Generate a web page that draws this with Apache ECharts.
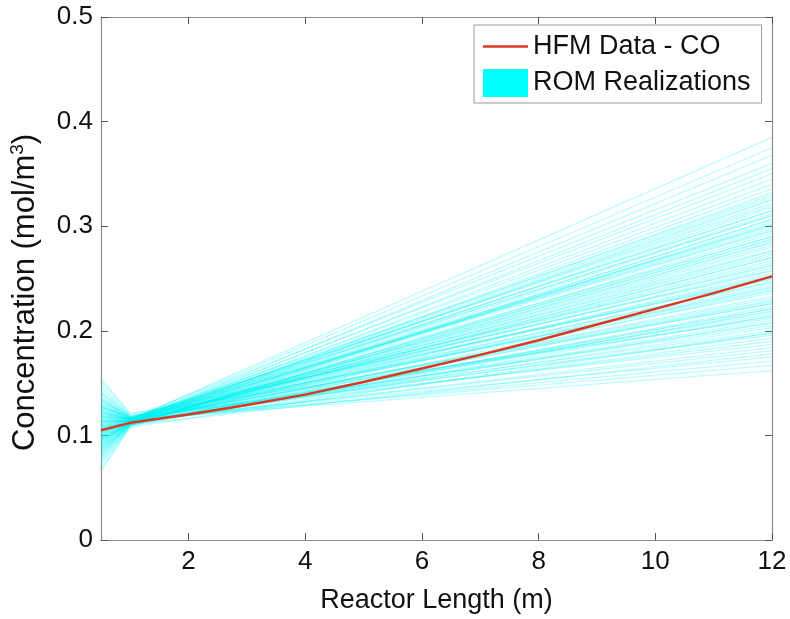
<!DOCTYPE html>
<html>
<head>
<meta charset="utf-8">
<style>
html,body{margin:0;padding:0;background:#fff;}
#chart{width:790px;height:619px;}
</style>
<script src="https://cdn.jsdelivr.net/npm/echarts@6/dist/echarts.min.js"></script>
</head>
<body>
<div id="chart"></div>
<script>
// HFM reference curve
var hfmX = [0.5, 1, 2, 3, 4, 5, 6, 7, 8, 9, 10, 11, 12];
var hfmY = [0.105, 0.112, 0.120, 0.129, 0.139, 0.151, 0.164, 0.177, 0.191, 0.206, 0.221, 0.236, 0.252];

// ROM realizations: each one read at three stations
var romX = [0.5, 1.0, 12];
var romStart = [0.118, 0.092, 0.135, 0.104, 0.081, 0.126, 0.112, 0.099, 0.145, 0.087,
  0.121, 0.108, 0.072, 0.131, 0.095, 0.115, 0.102, 0.139, 0.084, 0.124,
  0.110, 0.097, 0.152, 0.089, 0.119, 0.106, 0.076, 0.128, 0.093, 0.114,
  0.101, 0.142, 0.086, 0.123, 0.109, 0.098, 0.133, 0.079, 0.117, 0.105,
  0.068, 0.127, 0.094, 0.113, 0.100, 0.148, 0.088, 0.122, 0.107, 0.096,
  0.136, 0.083, 0.120, 0.103, 0.074, 0.130, 0.091, 0.116, 0.111, 0.141,
  0.085, 0.125, 0.108, 0.099, 0.155, 0.090, 0.119, 0.104, 0.078, 0.129,
  0.095, 0.114, 0.102, 0.137, 0.082, 0.121, 0.110, 0.097, 0.066, 0.132,
  0.106, 0.117, 0.093, 0.127, 0.101, 0.112, 0.088, 0.124, 0.098, 0.115,
  0.109, 0.134, 0.091, 0.118, 0.103, 0.122, 0.096, 0.113, 0.107, 0.128];
var romMid = [0.114, 0.112, 0.116, 0.113, 0.111, 0.115, 0.114, 0.112, 0.118, 0.110,
  0.115, 0.113, 0.109, 0.116, 0.112, 0.114, 0.113, 0.117, 0.111, 0.115,
  0.114, 0.112, 0.120, 0.111, 0.115, 0.113, 0.110, 0.116, 0.112, 0.114,
  0.113, 0.118, 0.111, 0.115, 0.114, 0.112, 0.117, 0.110, 0.115, 0.113,
  0.109, 0.116, 0.112, 0.114, 0.113, 0.119, 0.111, 0.115, 0.114, 0.112,
  0.117, 0.110, 0.115, 0.113, 0.109, 0.116, 0.112, 0.114, 0.114, 0.118,
  0.111, 0.115, 0.113, 0.112, 0.121, 0.111, 0.115, 0.113, 0.110, 0.116,
  0.112, 0.114, 0.113, 0.117, 0.111, 0.115, 0.114, 0.112, 0.108, 0.116,
  0.113, 0.115, 0.112, 0.116, 0.113, 0.114, 0.111, 0.115, 0.112, 0.114,
  0.113, 0.117, 0.112, 0.115, 0.113, 0.116, 0.112, 0.114, 0.113, 0.116];
var romEnd = [0.272, 0.318, 0.205, 0.345, 0.228, 0.290, 0.181, 0.336, 0.262, 0.214,
  0.385, 0.244, 0.307, 0.196, 0.282, 0.231, 0.355, 0.257, 0.221, 0.298,
  0.171, 0.325, 0.249, 0.208, 0.277, 0.368, 0.238, 0.301, 0.193, 0.265,
  0.312, 0.226, 0.288, 0.162, 0.340, 0.252, 0.216, 0.293, 0.375, 0.241,
  0.304, 0.200, 0.274, 0.328, 0.233, 0.187, 0.285, 0.350, 0.246, 0.210,
  0.296, 0.178, 0.322, 0.260, 0.219, 0.360, 0.270, 0.198, 0.315, 0.236,
  0.280, 0.167, 0.332, 0.255, 0.212, 0.310, 0.190, 0.267, 0.223, 0.330,
  0.203, 0.300, 0.184, 0.250, 0.290, 0.175, 0.226, 0.270, 0.198, 0.310,
  0.242, 0.295, 0.218, 0.320, 0.263, 0.229, 0.306, 0.207, 0.284, 0.253,
  0.326, 0.239, 0.276, 0.214, 0.302, 0.258, 0.221, 0.287, 0.247, 0.315];

var xTicks = [2, 4, 6, 8, 10, 12];

var FONT = 'Liberation Sans, Arial, Helvetica, sans-serif';
var AXIS_COLOR = '#8c8c8c';

var series = [];
for (var i = 0; i < romStart.length; i++) {
  series.push({
    name: 'ROM Realizations',
    type: 'line',
    symbol: 'none',
    silent: true,
    z: 2,
    lineStyle: { color: '#00f2f2', width: 1.3, opacity: 0.26 },
    itemStyle: { color: '#00ffff' },
    data: [[romX[0], romStart[i]], [romX[1], romMid[i]], [romX[2], romEnd[i]]]
  });
}
series.push({
  name: 'HFM Data - CO',
  type: 'line',
  symbol: 'none',
  z: 5,
  lineStyle: { color: '#dc3720', width: 2.5 },
  itemStyle: { color: '#dc3720' },
  data: hfmX.map(function (x, k) { return [x, hfmY[k]]; })
});

function xAx(pos, showLabel) {
  return {
    type: 'value', position: pos, min: 0.5, max: 12,
    axisLine: { show: true, onZero: false, lineStyle: { color: AXIS_COLOR, width: 1.2 } },
    axisTick: { show: true, inside: true, length: 7, customValues: xTicks, lineStyle: { color: '#555' } },
    axisLabel: { show: showLabel, customValues: xTicks, color: '#111', fontSize: 26, fontFamily: FONT, margin: 9 },
    splitLine: { show: false },
    name: showLabel ? 'Reactor Length (m)' : '',
    nameLocation: 'middle', nameGap: 47,
    nameTextStyle: { color: '#111', fontSize: 27, fontFamily: FONT }
  };
}
function yAx(pos, showLabel) {
  return {
    type: 'value', position: pos, min: 0, max: 0.5, interval: 0.1,
    axisLine: { show: true, onZero: false, lineStyle: { color: AXIS_COLOR, width: 1.2 } },
    axisTick: { show: true, inside: true, length: 7, lineStyle: { color: '#555' } },
    axisLabel: { show: showLabel, color: '#111', fontSize: 26, fontFamily: FONT, margin: 8 },
    splitLine: { show: false },
    name: showLabel ? 'Concentration (mol/m{sup|3})' : '',
    nameLocation: 'middle', nameGap: 58,
    nameTextStyle: {
      color: '#111', fontSize: 31, fontFamily: FONT,
      padding: [0, 28, 0, 0],
      rich: { sup: { fontSize: 19, fontFamily: FONT, color: '#111', verticalAlign: 'top', padding: [0, 0, 16, 0] } }
    }
  };
}

var chart = echarts.init(document.getElementById('chart'), null, { renderer: 'canvas' });
chart.setOption({
  animation: false,
  backgroundColor: '#ffffff',
  grid: { left: 100, right: 18, top: 17, bottom: 75, containLabel: false },
  xAxis: [xAx('bottom', true), xAx('top', false)],
  yAxis: [yAx('left', true), yAx('right', false)],
  legend: {
    orient: 'vertical',
    left: 474, top: 25,
    padding: [8, 11, 6, 9],
    itemGap: 9,
    itemWidth: 45, itemHeight: 28,
    borderColor: '#9a9a9a', borderWidth: 1, borderRadius: 0,
    backgroundColor: '#ffffff',
    textStyle: { color: '#111', fontSize: 27, fontFamily: FONT },
    data: [
      { name: 'HFM Data - CO', icon: 'path://M0,0L45,0L45,2.4L0,2.4Z', itemStyle: { color: '#dc3720' } },
      { name: 'ROM Realizations', icon: 'rect', itemStyle: { color: '#00ffff', opacity: 1 } }
    ]
  },
  series: series
});
</script>
</body>
</html>
